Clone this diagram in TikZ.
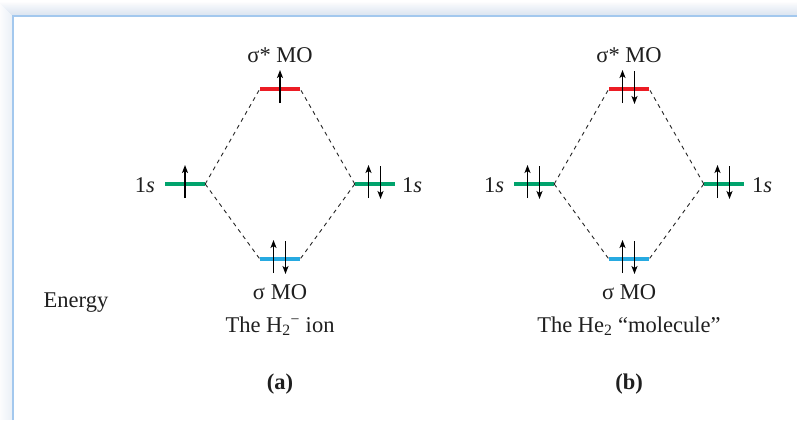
\documentclass[tikz,border=0pt]{standalone}
\usepackage{fontspec}
\setmainfont{Liberation Serif}
\usetikzlibrary{arrows.meta}
\definecolor{moRed}{HTML}{EC1C24}
\definecolor{moGreen}{HTML}{00A36C}
\definecolor{moBlue}{HTML}{27AAE1}
\definecolor{frameBlue}{HTML}{A3C8EE}
\definecolor{glowBlue}{HTML}{AFC3E0}
\newcommand{\elecUp}[2]{\draw[elec] ([shift={(#2,14)}]#1.center) -- ([shift={(#2,-19)}]#1.center);}
\newcommand{\elecDown}[2]{\draw[elec] ([shift={(#2,-18)}]#1.center) -- ([shift={(#2,15)}]#1.center);}
\begin{document}
\begin{tikzpicture}[x=1pt,y=-1pt,
  lvl/.style={rectangle,inner sep=0pt,minimum width=40pt,minimum height=4pt,draw=none},
  corr/.style={draw=black!85,line width=0.9pt,dash pattern=on 4pt off 4pt},
  elec/.style={draw=black,line width=1.4pt,-{Stealth[length=8pt,width=6pt,inset=2pt]}},
  lbl/.style={inner sep=0pt,anchor=base,font=\fontsize{22.5}{26}\selectfont,text=black!88}
]
\useasboundingbox (0,0) rectangle (797,420);
\fill[white] (0,0) rectangle (797,420);
% frame glow
\foreach \i in {1,...,13}{
  \pgfmathsetmacro\op{0.25*(1-\i/14)}
  \draw[glowBlue,line width=1.1pt,opacity=\op] (12.5-\i,420) -- (12.5-\i,16-\i) -- (797,16-\i);
}
\draw[frameBlue,line width=2pt] (12.5,420) -- (12.5,16) -- (797,16);

% ---------- panel (a)
\node[lvl,fill=moRed]   (aS) at (280,89)  {};
\node[lvl,fill=moGreen] (aL) at (185,184) {};
\node[lvl,fill=moGreen] (aR) at (375,184) {};
\node[lvl,fill=moBlue]  (aB) at (280,259) {};
\draw[corr] (aL.east) -- (aS.west);
\draw[corr] (aL.east) -- (aB.west);
\draw[corr] (aR.west) -- (aS.east);
\draw[corr] (aR.west) -- (aB.east);
\elecUp{aL}{0}
\elecUp{aS}{0}
\elecUp{aB}{-6.5}\elecDown{aB}{5.5}
\elecUp{aR}{-6.5}\elecDown{aR}{5.5}
\node[lbl] (aSt) at (280,63) {σ* MO};
\node[lbl] (aBt) at (280,299) {σ MO};
\node[lbl] (aTi) at (280,332) {The H\textsubscript{2}\textsuperscript{−} ion};
\node[lbl] (aCap) at (280,389) {\textbf{(a)}};
\node[lbl] (aLt) at (145,192) {1\textit{s}};
\node[lbl] (aRt) at (412,192) {1\textit{s}};
\node[lbl] (en) at (76,307) {Energy};

% ---------- panel (b)
\node[lvl,fill=moRed]   (bS) at (629,89)  {};
\node[lvl,fill=moGreen] (bL) at (534,184) {};
\node[lvl,fill=moGreen] (bR) at (724,184) {};
\node[lvl,fill=moBlue]  (bB) at (629,259) {};
\draw[corr] (bL.east) -- (bS.west);
\draw[corr] (bL.east) -- (bB.west);
\draw[corr] (bR.west) -- (bS.east);
\draw[corr] (bR.west) -- (bB.east);
\elecUp{bL}{-6.5}\elecDown{bL}{5.5}
\elecUp{bS}{-6.5}\elecDown{bS}{5.5}
\elecUp{bB}{-6.5}\elecDown{bB}{5.5}
\elecUp{bR}{-6.5}\elecDown{bR}{5.5}
\node[lbl] (bSt) at (629,63) {σ* MO};
\node[lbl] (bBt) at (629,299) {σ MO};
\node[lbl] (bTi) at (629,332) {The He\textsubscript{2} “molecule”};
\node[lbl] (bCap) at (629,389) {\textbf{(b)}};
\node[lbl] (bLt) at (494,192) {1\textit{s}};
\node[lbl] (bRt) at (762,192) {1\textit{s}};
\end{tikzpicture}
\end{document}
